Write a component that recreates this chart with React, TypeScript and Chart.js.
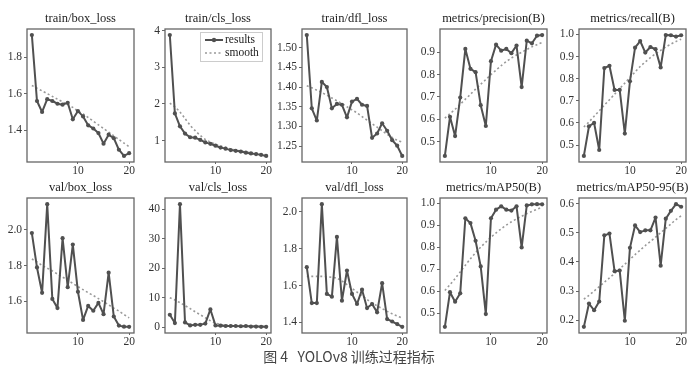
import React, { useEffect, useRef } from 'react';
import { Chart, registerables } from 'chart.js';
Chart.register(...registerables);

const epochs = [1, 2, 3, 4, 5, 6, 7, 8, 9, 10, 11, 12, 13, 14, 15, 16, 17, 18, 19, 20];

const trainBoxResults = [1.92, 1.56, 1.50, 1.57, 1.56, 1.545, 1.54, 1.55, 1.46, 1.505, 1.476, 1.427, 1.41, 1.385, 1.327, 1.376, 1.357, 1.294, 1.26, 1.275];
const trainBoxSmooth = [1.645, 1.63, 1.615, 1.6, 1.585, 1.57, 1.555, 1.54, 1.525, 1.505, 1.49, 1.47, 1.45, 1.43, 1.41, 1.39, 1.37, 1.35, 1.33, 1.31];
const trainBoxTicks = ['1.4', '1.6', '1.8'];

const trainClsResults = [3.88, 1.74, 1.39, 1.19, 1.09, 1.08, 1.02, 0.95, 0.91, 0.86, 0.81, 0.78, 0.74, 0.72, 0.7, 0.67, 0.65, 0.63, 0.61, 0.58];
const trainClsSmooth = [2.02, 1.92, 1.78, 1.6, 1.42, 1.27, 1.14, 1.03, 0.96, 0.9, 0.85, 0.81, 0.77, 0.74, 0.71, 0.69, 0.67, 0.65, 0.63, 0.61];
const trainClsTicks = ['1', '2', '3', '4'];

const trainDflResults = [1.532, 1.346, 1.315, 1.413, 1.4, 1.346, 1.357, 1.355, 1.323, 1.363, 1.37, 1.355, 1.352, 1.271, 1.282, 1.308, 1.289, 1.265, 1.251, 1.225];
const trainDflSmooth = [1.403, 1.398, 1.392, 1.386, 1.379, 1.372, 1.365, 1.358, 1.35, 1.342, 1.334, 1.325, 1.316, 1.307, 1.298, 1.289, 1.28, 1.272, 1.265, 1.26];
const trainDflTicks = ['1.25', '1.30', '1.35', '1.40', '1.45', '1.50'];

const precisionResults = [0.436, 0.611, 0.525, 0.697, 0.915, 0.826, 0.811, 0.663, 0.57, 0.86, 0.934, 0.907, 0.915, 0.896, 0.93, 0.744, 0.952, 0.94, 0.974, 0.977];
const precisionSmooth = [0.605, 0.625, 0.645, 0.667, 0.69, 0.712, 0.735, 0.757, 0.778, 0.8, 0.82, 0.84, 0.858, 0.874, 0.888, 0.9, 0.912, 0.924, 0.934, 0.944];
const precisionTicks = ['0.5', '0.6', '0.7', '0.8', '0.9'];

const recallResults = [0.451, 0.585, 0.6, 0.478, 0.848, 0.858, 0.749, 0.749, 0.552, 0.788, 0.94, 0.97, 0.918, 0.943, 0.933, 0.851, 0.997, 0.996, 0.99, 0.996];
const recallSmooth = [0.582, 0.605, 0.63, 0.655, 0.68, 0.705, 0.73, 0.755, 0.78, 0.805, 0.83, 0.855, 0.875, 0.895, 0.912, 0.928, 0.943, 0.956, 0.968, 0.978];
const recallTicks = ['0.5', '0.6', '0.7', '0.8', '0.9', '1.0'];

const valBoxResults = [1.981, 1.789, 1.647, 2.143, 1.613, 1.562, 1.953, 1.679, 1.917, 1.653, 1.496, 1.574, 1.547, 1.591, 1.528, 1.76, 1.515, 1.464, 1.458, 1.457];
const valBoxSmooth = [1.836, 1.82, 1.8, 1.785, 1.77, 1.752, 1.735, 1.718, 1.7, 1.682, 1.665, 1.648, 1.632, 1.615, 1.598, 1.58, 1.562, 1.545, 1.526, 1.507];
const valBoxTicks = ['1.6', '1.8', '2.0'];

const valClsResults = [4.3, 1.5, 41.8, 1.7, 0.7, 0.9, 0.9, 1.3, 6.1, 0.7, 0.6, 0.5, 0.5, 0.5, 0.4, 0.5, 0.3, 0.3, 0.2, 0.2];
const valClsSmooth = [10.1, 9.3, 8.4, 7.4, 6.4, 5.3, 4.3, 3.3, 2.3, 1.5, 1.0, 0.8, 0.7, 0.6, 0.6, 0.5, 0.5, 0.4, 0.4, 0.3];
const valClsTicks = ['0', '10', '20', '30', '40'];

const valDflResults = [1.7, 1.505, 1.505, 2.042, 1.555, 1.54, 1.864, 1.518, 1.682, 1.555, 1.5, 1.578, 1.478, 1.5, 1.455, 1.613, 1.418, 1.405, 1.391, 1.376];
const valDflSmooth = [1.649, 1.65, 1.65, 1.65, 1.648, 1.645, 1.64, 1.625, 1.605, 1.585, 1.565, 1.545, 1.525, 1.505, 1.49, 1.475, 1.46, 1.447, 1.435, 1.424];
const valDflTicks = ['1.4', '1.6', '1.8', '2.0'];

const map50Results = [0.439, 0.596, 0.553, 0.591, 0.931, 0.909, 0.829, 0.713, 0.497, 0.931, 0.97, 0.985, 0.97, 0.966, 0.985, 0.799, 0.989, 0.994, 0.995, 0.994];
const map50Smooth = [0.604, 0.63, 0.658, 0.688, 0.718, 0.748, 0.775, 0.8, 0.823, 0.845, 0.865, 0.883, 0.9, 0.915, 0.928, 0.94, 0.952, 0.962, 0.972, 0.981];
const map50Ticks = ['0.5', '0.6', '0.7', '0.8', '0.9', '1.0'];

const map5095Results = [0.177, 0.257, 0.234, 0.264, 0.491, 0.497, 0.368, 0.37, 0.198, 0.448, 0.525, 0.502, 0.508, 0.508, 0.552, 0.387, 0.548, 0.575, 0.598, 0.589];
const map5095Smooth = [0.272, 0.285, 0.3, 0.315, 0.33, 0.345, 0.36, 0.376, 0.392, 0.408, 0.425, 0.44, 0.456, 0.47, 0.485, 0.5, 0.515, 0.53, 0.545, 0.558];
const map5095Ticks = ['0.2', '0.3', '0.4', '0.5', '0.6'];

const xTicks = [10, 20];
const legendLabels = ['results', 'smooth'];
const caption = '图 4   YOLOv8 训练过程指标';

const FONT = "'Liberation Serif', 'DejaVu Serif', serif";

type Panel = {
  title: string;
  results: number[];
  smooth: number[];
  ticks: string[];
  left: number;
  top: number;
  w: number;
  h: number;
  legend?: boolean;
};

const TOP_Y = 29, TOP_H = 133, BOT_Y = 198, BOT_H = 135;
const LEFTS = [27, 165, 302, 440, 579];
const WIDTHS = [107, 106, 105, 107, 107];

const panels: Panel[] = [
  { title: 'train/box_loss', results: trainBoxResults, smooth: trainBoxSmooth, ticks: trainBoxTicks, left: LEFTS[0], top: TOP_Y, w: WIDTHS[0], h: TOP_H },
  { title: 'train/cls_loss', results: trainClsResults, smooth: trainClsSmooth, ticks: trainClsTicks, left: LEFTS[1], top: TOP_Y, w: WIDTHS[1], h: TOP_H, legend: true },
  { title: 'train/dfl_loss', results: trainDflResults, smooth: trainDflSmooth, ticks: trainDflTicks, left: LEFTS[2], top: TOP_Y, w: WIDTHS[2], h: TOP_H },
  { title: 'metrics/precision(B)', results: precisionResults, smooth: precisionSmooth, ticks: precisionTicks, left: LEFTS[3], top: TOP_Y, w: WIDTHS[3], h: TOP_H },
  { title: 'metrics/recall(B)', results: recallResults, smooth: recallSmooth, ticks: recallTicks, left: LEFTS[4], top: TOP_Y, w: WIDTHS[4], h: TOP_H },
  { title: 'val/box_loss', results: valBoxResults, smooth: valBoxSmooth, ticks: valBoxTicks, left: LEFTS[0], top: BOT_Y, w: WIDTHS[0], h: BOT_H },
  { title: 'val/cls_loss', results: valClsResults, smooth: valClsSmooth, ticks: valClsTicks, left: LEFTS[1], top: BOT_Y, w: WIDTHS[1], h: BOT_H },
  { title: 'val/dfl_loss', results: valDflResults, smooth: valDflSmooth, ticks: valDflTicks, left: LEFTS[2], top: BOT_Y, w: WIDTHS[2], h: BOT_H },
  { title: 'metrics/mAP50(B)', results: map50Results, smooth: map50Smooth, ticks: map50Ticks, left: LEFTS[3], top: BOT_Y, w: WIDTHS[3], h: BOT_H },
  { title: 'metrics/mAP50-95(B)', results: map5095Results, smooth: map5095Smooth, ticks: map5095Ticks, left: LEFTS[4], top: BOT_Y, w: WIDTHS[4], h: BOT_H },
];

const Y_AXIS_W = 32;
const PAD_TOP = 28;
const PAD_RIGHT = 12;
const X_AXIS_H = 18;

const RESULT_COLOR = '#505050';
const SMOOTH_COLOR = '#999999';
const FRAME_COLOR = '#666666';

function limits(a: number[], b: number[]): [number, number] {
  const all = a.concat(b);
  const lo = Math.min(...all);
  const hi = Math.max(...all);
  const m = (hi - lo) * 0.05;
  return [lo - m, hi + m];
}

function makePlugin(p: Panel) {
  return {
    id: 'frameTitle',
    afterDraw(chart: any) {
      const { ctx, chartArea: a } = chart;
      ctx.save();
      ctx.strokeStyle = FRAME_COLOR;
      ctx.lineWidth = 1.3;
      ctx.strokeRect(a.left, a.top, a.right - a.left, a.bottom - a.top);
      ctx.fillStyle = '#222';
      ctx.font = `12.5px ${FONT}`;
      ctx.textAlign = 'center';
      ctx.textBaseline = 'middle';
      ctx.fillText(p.title, (a.left + a.right) / 2, a.top - 10);
      if (p.legend) {
        const bw = 63, bh = 30;
        const bx = a.right - 8 - bw;
        const by = a.top + 3;
        ctx.fillStyle = 'rgba(255,255,255,0.85)';
        ctx.fillRect(bx, by, bw, bh);
        ctx.strokeStyle = '#cccccc';
        ctx.lineWidth = 1;
        ctx.strokeRect(bx + 0.5, by + 0.5, bw - 1, bh - 1);
        const x0 = bx + 5, x1 = bx + 23;
        const y1 = by + 8, y2 = by + 21;
        ctx.strokeStyle = RESULT_COLOR;
        ctx.lineWidth = 2;
        ctx.beginPath(); ctx.moveTo(x0, y1); ctx.lineTo(x1, y1); ctx.stroke();
        ctx.fillStyle = RESULT_COLOR;
        ctx.beginPath(); ctx.arc((x0 + x1) / 2, y1, 2.2, 0, Math.PI * 2); ctx.fill();
        ctx.strokeStyle = SMOOTH_COLOR;
        ctx.lineWidth = 1.6;
        ctx.setLineDash([2, 2.5]);
        ctx.beginPath(); ctx.moveTo(x0, y2); ctx.lineTo(x1, y2); ctx.stroke();
        ctx.setLineDash([]);
        ctx.fillStyle = '#222';
        ctx.font = `11.5px ${FONT}`;
        ctx.textAlign = 'left';
        ctx.fillText(legendLabels[0], x1 + 2, y1);
        ctx.fillText(legendLabels[1], x1 + 2, y2);
      }
      ctx.restore();
    },
  };
}

function SubChart({ p }: { p: Panel }) {
  const ref = useRef<HTMLCanvasElement>(null);
  useEffect(() => {
    const [ymin, ymax] = limits(p.results, p.smooth);
    const tickVals = p.ticks.map((t) => parseFloat(t));
    const chart = new Chart(ref.current as HTMLCanvasElement, {
      type: 'line',
      data: {
        labels: epochs,
        datasets: [
          {
            label: legendLabels[0],
            data: epochs.map((e, i) => ({ x: e, y: p.results[i] })),
            borderColor: RESULT_COLOR,
            backgroundColor: RESULT_COLOR,
            borderWidth: 2,
            borderJoinStyle: 'round',
            borderCapStyle: 'round',
            pointRadius: 2.1,
            pointBorderWidth: 0,
            pointBackgroundColor: RESULT_COLOR,
            tension: 0,
            order: 1,
          },
          {
            label: legendLabels[1],
            data: epochs.map((e, i) => ({ x: e, y: p.smooth[i] })),
            borderColor: SMOOTH_COLOR,
            borderWidth: 1.6,
            borderDash: [2, 2.5],
            pointRadius: 0,
            tension: 0.3,
            order: 2,
          },
        ],
      },
      options: {
        animation: false,
        responsive: false,
        maintainAspectRatio: false,
        layout: { padding: { top: PAD_TOP, right: PAD_RIGHT, left: 0, bottom: 0 } },
        plugins: { legend: { display: false }, tooltip: { enabled: false }, title: { display: false } },
        scales: {
          x: {
            type: 'linear',
            min: 0.05,
            max: 20.95,
            afterBuildTicks: (s: any) => { s.ticks = xTicks.map((v) => ({ value: v })); },
            afterFit: (s: any) => { s.height = X_AXIS_H; },
            ticks: { font: { family: FONT, size: 11.5 }, color: '#333', padding: 0, maxRotation: 0 },
            grid: { drawOnChartArea: false, drawTicks: true, tickLength: 2, color: FRAME_COLOR },
            border: { display: false },
          },
          y: {
            type: 'linear',
            min: ymin,
            max: ymax,
            afterBuildTicks: (s: any) => { s.ticks = tickVals.map((v) => ({ value: v })); },
            afterFit: (s: any) => { s.width = Y_AXIS_W; },
            ticks: {
              font: { family: FONT, size: 11.5 },
              color: '#333',
              padding: 2,
              callback: (v: any) => {
                const idx = tickVals.indexOf(Number(v));
                return idx >= 0 ? p.ticks[idx] : '';
              },
            },
            grid: { drawOnChartArea: false, drawTicks: true, tickLength: 3, color: FRAME_COLOR },
            border: { display: false },
          },
        },
      },
      plugins: [makePlugin(p)],
    } as any);
    return () => chart.destroy();
  }, [p]);
  const cw = Y_AXIS_W + p.w + PAD_RIGHT;
  const ch = PAD_TOP + p.h + X_AXIS_H;
  return (
    <canvas
      ref={ref}
      width={cw}
      height={ch}
      style={{ position: 'absolute', left: p.left - Y_AXIS_W, top: p.top - PAD_TOP, width: cw, height: ch }}
    />
  );
}

export default function App() {
  return (
    <div style={{ position: 'absolute', left: 0, top: 0, width: 700, height: 378, background: '#ffffff', overflow: 'hidden' }}>
      {panels.map((p, i) => (
        <SubChart key={i} p={p} />
      ))}
      <div
        style={{
          position: 'absolute',
          left: 0,
          width: 698,
          top: 346,
          textAlign: 'center',
          fontFamily: "'Noto Sans CJK SC', sans-serif",
          fontSize: 14,
          color: '#444',
          whiteSpace: 'pre',
        }}
      >
        {caption}
      </div>
    </div>
  );
}
